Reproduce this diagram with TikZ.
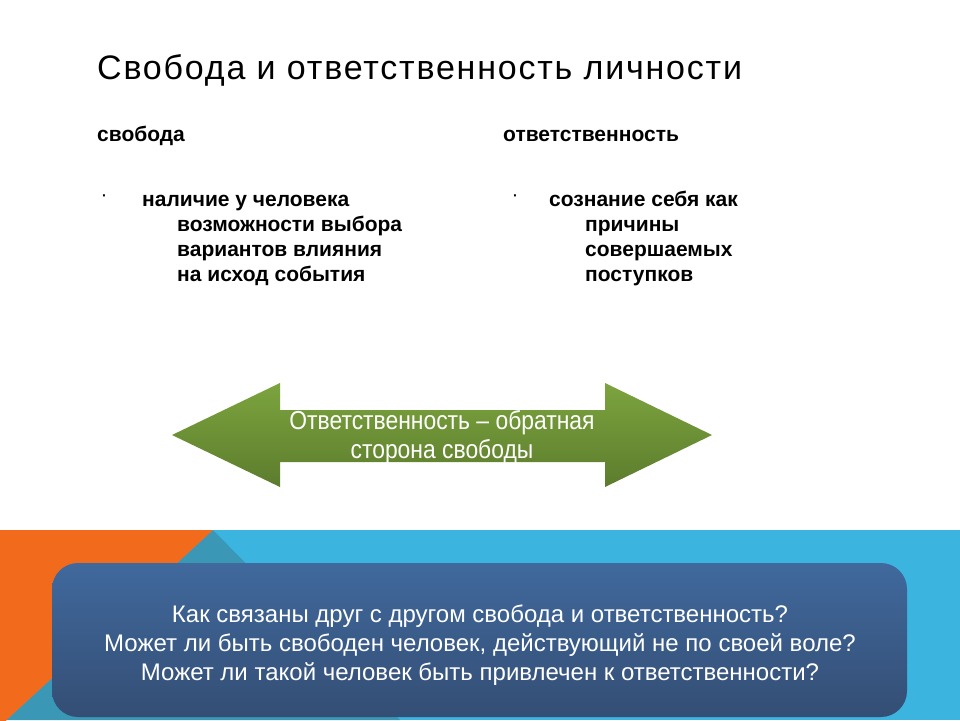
\documentclass[tikz,border=0pt]{standalone}
\usepackage{fontspec}
\setmainfont{Liberation Sans}
\newfontfamily\titlefont[LetterSpace=5.3]{Liberation Sans}
\newfontfamily\narrowfont[FakeStretch=0.88]{Liberation Sans}
\definecolor{orangeA}{HTML}{F26B1D}
\definecolor{tealA}{HTML}{3A97B6}
\definecolor{skyA}{HTML}{3CB4E0}
\definecolor{boxTop}{HTML}{40699D}
\definecolor{boxBot}{HTML}{344E74}
\definecolor{grTop}{HTML}{7CA43E}
\definecolor{grBot}{HTML}{5C7C2D}
\tikzset{
  head/.style={anchor=base west,inner sep=0pt,font=\fontsize{21}{25}\selectfont\bfseries},
  item/.style={anchor=base west,inner sep=0pt,font=\fontsize{21}{25}\selectfont\bfseries},
  dotmark/.style={anchor=base west,inner sep=0pt,font=\fontsize{14}{16}\selectfont\bfseries},
  whitetext/.style={text=white,align=center},
}
\begin{document}
\begin{tikzpicture}[x=1pt,y=-1pt]
\useasboundingbox (0,0) rectangle (960,720);
% bottom band
\fill[skyA] (0,530) rectangle (960,720);
\fill[tealA] (213,530) -- (0,726) -- (0,720) -- (400,720) -- cycle;
\fill[orangeA] (0,530) -- (213,530) -- (0,726) -- cycle;
% title
\node[anchor=base west,inner sep=0pt,font=\titlefont\fontsize{34}{40}\selectfont] (title) at (97,79) {Свобода и ответственность личности};
% headings
\node[head] (h1) at (97,141) {свобода};
\node[head] (h2) at (503,141) {ответственность};
% left list
\node[dotmark] (d1) at (102,200) {·};
\node[item] (l1) at (142,206) {наличие у человека};
\node[item] (l2) at (177,231) {возможности выбора};
\node[item] (l3) at (177,256) {вариантов влияния};
\node[item] (l4) at (177,281) {на исход события};
% right list
\node[dotmark] (d2) at (513,200) {·};
\node[item] (r1) at (549,206) {сознание себя как};
\node[item] (r2) at (585,231) {причины};
\node[item] (r3) at (585,256) {совершаемых};
\node[item] (r4) at (585,281) {поступков};
% arrow
\shade[top color=grTop,bottom color=grBot]
  (172,435) -- (280,383) -- (280,410) -- (605,410) -- (605,383) -- (712,435)
  -- (605,487) -- (605,462) -- (280,462) -- (280,487) -- cycle;
\node[whitetext,font=\narrowfont\fontsize{26}{29}\selectfont] (arrowtext) at (442,437) {Ответственность – обратная\\сторона свободы};
% question box
\shade[top color=boxTop,bottom color=boxBot,rounded corners=26] (52,563) rectangle (907,717);
\node[whitetext,font=\fontsize{24}{29}\selectfont] (questions) at (480,645) {Как связаны друг с другом свобода и ответственность?\\Может ли быть свободен человек, действующий не по своей воле?\\Может ли такой человек быть привлечен к ответственности?};
\end{tikzpicture}
\end{document}
